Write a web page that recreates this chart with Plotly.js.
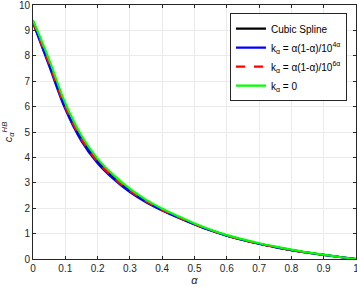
<!DOCTYPE html>
<html><head><meta charset="utf-8">
<script src="https://cdn.plot.ly/plotly-3.0.1.min.js"></script>
<style>html,body{margin:0;padding:0;background:#fff}#c{width:357px;height:287px}</style>
</head><body><div id="c"></div>
<script>
var alpha = [0, 0.05, 0.1, 0.15, 0.2, 0.25, 0.3, 0.35, 0.4, 0.45, 0.5, 0.55, 0.6, 0.65, 0.7, 0.75, 0.8, 0.85, 0.9, 0.95, 1];
var cubicSpline = [9.35, 7.72, 6.02, 4.75, 3.86, 3.22, 2.7, 2.28, 1.94, 1.64, 1.37, 1.13, 0.92, 0.75, 0.6, 0.47, 0.35, 0.25, 0.16, 0.08, 0];
var k4 = [9.3, 7.6, 5.9, 4.64, 3.77, 3.14, 2.63, 2.23, 1.91, 1.62, 1.36, 1.12, 0.92, 0.75, 0.6, 0.47, 0.35, 0.25, 0.16, 0.08, 0];
var k6 = [9.33, 7.68, 5.98, 4.71, 3.83, 3.19, 2.68, 2.27, 1.93, 1.64, 1.37, 1.13, 0.92, 0.75, 0.6, 0.47, 0.35, 0.25, 0.16, 0.08, 0];
var k0 = [9.4, 7.84, 6.13, 4.85, 3.94, 3.29, 2.76, 2.33, 1.98, 1.68, 1.4, 1.15, 0.94, 0.77, 0.62, 0.49, 0.37, 0.26, 0.17, 0.08, 0];
var names = ["Cubic Spline", "k<sub>α</sub> = α(1-α)/10<sup>4α</sup>", "k<sub>α</sub> = α(1-α)/10<sup>6α</sup>", "k<sub>α</sub> = 0"];
var xTicks = [0, 0.1, 0.2, 0.3, 0.4, 0.5, 0.6, 0.7, 0.8, 0.9, 1];
var xTickText = ["0", "0.1", "0.2", "0.3", "0.4", "0.5", "0.6", "0.7", "0.8", "0.9", "1"];
var yTicks = [0, 1, 2, 3, 4, 5, 6, 7, 8, 9, 10];

var series = [cubicSpline, k4, k6, k0];
var colors = ["#000000", "#0000ff", "#ff0000", "#00ff00"];
var dashes = ["solid", "solid", "dash", "solid"];
var traces = series.map(function (s, i) {
  return {x: alpha, y: s, name: names[i], mode: "lines",
    line: {color: colors[i], width: 2.2, dash: dashes[i], shape: "spline", smoothing: 1}};
});
var axisCommon = {showline: true, linecolor: "#262626", linewidth: 1, mirror: "ticks",
  ticks: "inside", ticklen: 3, tickcolor: "#262626", showgrid: true, gridcolor: "#ebebeb",
  zeroline: false, ticklabeloverflow: "allow", tickfont: {size: 10, color: "#262626"}};
var layout = {
  width: 357, height: 287,
  margin: {l: 33, r: 1, t: 5, b: 28},
  paper_bgcolor: "#fff", plot_bgcolor: "#fff",
  font: {family: "Liberation Sans, Arial, sans-serif", size: 10, color: "#262626"},
  xaxis: Object.assign({}, axisCommon, {range: [0, 1], tickvals: xTicks, ticktext: xTickText,
    title: {text: "<i>α</i>", standoff: 3, font: {size: 11}}}),
  yaxis: Object.assign({}, axisCommon, {range: [0, 10], tickvals: yTicks,
    title: {text: "<i>c</i><sub><i>α</i></sub><sup><i>HB</i></sup>", standoff: 4, font: {size: 11}}}),
  showlegend: true,
  legend: {x: 0.972, xanchor: "right", y: 0.968, yanchor: "top", bgcolor: "#fff",
    bordercolor: "#262626", borderwidth: 1, font: {size: 10, color: "#000"},
    tracegroupgap: 0, itemwidth: 30}
};
Plotly.newPlot("c", traces, layout, {staticPlot: true, displayModeBar: false});
</script></body></html>
